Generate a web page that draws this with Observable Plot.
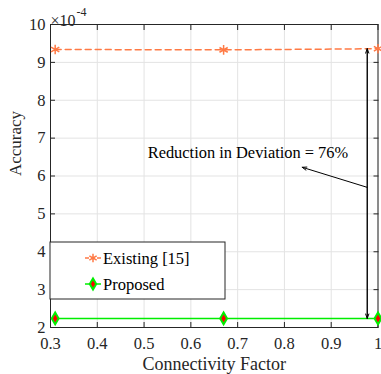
<!DOCTYPE html>
<html>
<head>
<meta charset="utf-8">
<script src="https://cdn.jsdelivr.net/npm/d3@7"></script>
<script src="https://cdn.jsdelivr.net/npm/@observablehq/plot@0.6"></script>
<style>
  body { margin: 0; background: #fff; }
  #chart svg { font-family: "Liberation Serif", "Times New Roman", serif; }
</style>
</head>
<body>
<div id="chart"></div>
<script>
// Accuracy (x 10^-4) versus connectivity factor
const connectivity = [0.31, 0.67, 1.0];
const existing = [9.34, 9.33, 9.36];
const proposed = [2.24, 2.24, 2.24];
const seriesNames = ["Existing [15]", "Proposed"];

const xTicks = [0.3, 0.4, 0.5, 0.6, 0.7, 0.8, 0.9, 1];
const yTicks = [2, 3, 4, 5, 6, 7, 8, 9, 10];

// annotation: deviation bracket, pointer and its caption
const bracketX = [0.977];
const pointerFrom = [0.977, 5.70];
const pointerTo = [0.838, 6.23];
const captionAt = [0.722, 6.62];
const captionText = "Reduction in Deviation = 76%";

const colExisting = "#ff7a45";
const colProposed = "#00ee00";
const ink = "#262626";

const existingRows = connectivity.map((x, i) => ({x, y: existing[i]}));
const proposedRows = connectivity.map((x, i) => ({x, y: proposed[i]}));
const last = connectivity.length - 1;

const fmt = d => d3.format("")(d);

const plot = Plot.plot({
  width: 381,
  height: 374,
  marginLeft: 50,
  marginRight: 3.5,
  marginTop: 24,
  marginBottom: 47,
  style: {fontFamily: "Liberation Serif, serif", background: "#fff"},
  x: {domain: [0.3, 1]},
  y: {domain: [2, 10]},
  marks: [
    Plot.gridX(xTicks, {stroke: "#e3e3e3", strokeOpacity: 1}),
    Plot.gridY(yTicks, {stroke: "#e3e3e3", strokeOpacity: 1}),
    // tick labels
    Plot.axisX(xTicks, {tickSize: 0, tickPadding: 10, fontSize: 16.5, fill: ink, tickFormat: fmt, label: null}),
    Plot.axisY(yTicks, {tickSize: 0, tickPadding: 5, fontSize: 16.5, fill: ink, tickFormat: fmt, label: null}),
    // inward tick marks on all four sides
    Plot.axisX(xTicks, {anchor: "bottom", tickSize: 5, dy: -5, tickFormat: () => "", label: null, stroke: ink}),
    Plot.axisX(xTicks, {anchor: "top", tickSize: 5, dy: 5, tickFormat: () => "", label: null, stroke: ink}),
    Plot.axisY(yTicks, {anchor: "left", tickSize: 5, dx: 5, tickFormat: () => "", label: null, stroke: ink}),
    Plot.axisY(yTicks, {anchor: "right", tickSize: 5, dx: -5, tickFormat: () => "", label: null, stroke: ink}),
    Plot.frame({stroke: ink, strokeWidth: 1}),
    // axis titles and exponent
    Plot.text(["Connectivity Factor"], {frameAnchor: "bottom", dy: 42, fontSize: 18, fill: ink}),
    Plot.text(["Accuracy"], {frameAnchor: "left", dx: -35, rotate: -90, fontSize: 17, fill: ink}),
    Plot.text(["\u00d710"], {frameAnchor: "top-left", textAnchor: "start", dy: -10, dx: 0, fontSize: 16, fill: ink}),
    Plot.text(["-4"], {frameAnchor: "top-left", textAnchor: "start", dy: -17, dx: 26, fontSize: 12, fill: ink}),
    // series
    Plot.line(existingRows, {x: "x", y: "y", stroke: colExisting, strokeWidth: 1.5, strokeDasharray: "6,4"}),
    Plot.dot(existingRows, {x: "x", y: "y", symbol: "asterisk", r: 4.5, stroke: colExisting, strokeWidth: 1.5}),
    Plot.line(proposedRows, {x: "x", y: "y", stroke: colProposed, strokeWidth: 1.5}),
    Plot.dot(proposedRows, {x: "x", y: "y", symbol: "diamond", r: 3.6, fill: "#ff0000", stroke: colProposed, strokeWidth: 2}),
    // deviation bracket between the two series at the last point
    Plot.arrow(bracketX, {x1: d => d, x2: d => d, y1: proposed[last], y2: existing[last], stroke: "#000", strokeWidth: 1, headLength: 7, headAngle: 40}),
    Plot.arrow(bracketX, {x1: d => d, x2: d => d, y1: existing[last], y2: proposed[last], stroke: "#000", strokeWidth: 1, headLength: 7, headAngle: 40}),
    Plot.arrow([0], {x1: pointerFrom[0], y1: pointerFrom[1], x2: pointerTo[0], y2: pointerTo[1], stroke: "#000", strokeWidth: 1, headLength: 7, headAngle: 40}),
    Plot.text([captionText], {x: captionAt[0], y: captionAt[1], fontSize: 16.4, fill: "#000"})
  ]
});

document.getElementById("chart").appendChild(plot);

// legend box in the lower-left corner of the axes
const svg = d3.select(plot);
const lg = svg.append("g").attr("transform", "translate(50,242)").attr("text-anchor", "start");
lg.append("rect").attr("width", 175).attr("height", 57).attr("fill", "#fff").attr("stroke", ink).attr("stroke-width", 1);
const entries = [
  {name: seriesNames[0], y: 16, stroke: colExisting, dash: "4,2", symbol: d3.symbolAsterisk, size: 50, fill: "none", sw: 1.5},
  {name: seriesNames[1], y: 42, stroke: colProposed, dash: null, symbol: d3.symbolDiamond, size: 36, fill: "#ff0000", sw: 2}
];
for (const e of entries) {
  lg.append("line").attr("x1", 35).attr("x2", 51).attr("y1", e.y).attr("y2", e.y)
    .attr("stroke", e.stroke).attr("stroke-width", 1.5).attr("stroke-dasharray", e.dash);
  lg.append("path").attr("transform", `translate(43,${e.y})`)
    .attr("d", d3.symbol(e.symbol, e.size)())
    .attr("fill", e.fill).attr("stroke", e.stroke).attr("stroke-width", e.sw);
  lg.append("text").attr("x", 53).attr("y", e.y).attr("dy", "0.35em")
    .attr("font-size", 16.5).attr("fill", "#000").text(e.name);
}
</script>
</body>
</html>
